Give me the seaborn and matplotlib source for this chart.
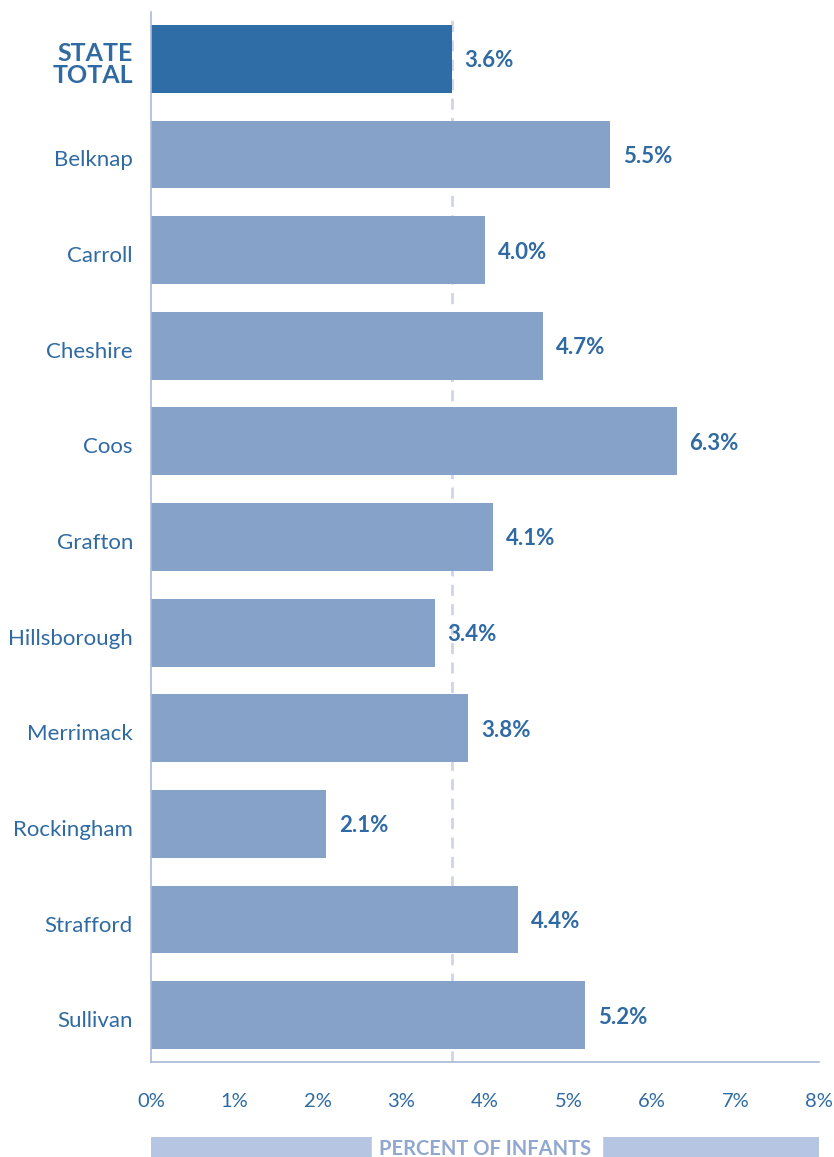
import matplotlib
matplotlib.use("Agg")
import matplotlib.pyplot as plt
import seaborn as sns
import pandas as pd
from matplotlib.patches import Rectangle
from matplotlib.transforms import ScaledTranslation

categories = ["STATE\nTOTAL", "Belknap", "Carroll", "Cheshire", "Coos", "Grafton",
              "Hillsborough", "Merrimack", "Rockingham", "Strafford", "Sullivan"]
values = [3.6, 5.5, 4.0, 4.7, 6.3, 4.1, 3.4, 3.8, 2.1, 4.4, 5.2]
groups = ["total"] + ["county"] * 10
state_total = 3.6
xticks = [0, 1, 2, 3, 4, 5, 6, 7, 8]

df = pd.DataFrame({"cat": categories, "val": values, "grp": groups})

sns.set_style("white")
plt.rcParams["font.family"] = ["Lato", "DejaVu Sans"]

text_color = "#2f6aa3"
fig = plt.figure(figsize=(8.34, 11.57), dpi=100)
ax = fig.add_axes([151/834, 1 - 1062/1157, (819-151)/834, (1062-12)/1157])

sns.barplot(data=df, x="val", y="cat", hue="grp", palette={"total": "#2f6da6", "county": "#87a2c9"},
            width=0.71, dodge=False, legend=False, ax=ax, saturation=1, edgecolor="none")

ax.axvline(state_total, color="#ccd6e8", lw=2, ls=(0, (4, 3)), zorder=0)

ax.set_xlim(0, 8)
ax.set_ylim(10.49, -0.49)
ax.set_xticks(xticks)
ax.set_xticklabels([f"{t}%" for t in xticks], fontsize=14.5, color=text_color)
ax.tick_params(axis="x", direction="in", length=12, width=1, color="#a8b9d8", pad=22)
ax.tick_params(axis="y", length=0, pad=13)
shift = ScaledTranslation(0, -4/100, fig.dpi_scale_trans)
for i, lab in enumerate(ax.get_yticklabels()):
    lab.set_color(text_color)
    lab.set_transform(lab.get_transform() + shift)
    if i == 0:
        lab.set_fontsize(18)
        lab.set_fontweight("bold")
        lab.set_linespacing(0.95)
    else:
        lab.set_fontsize(16)
ax.set_xlabel("")
ax.set_ylabel("")
for s in ["top", "right"]:
    ax.spines[s].set_visible(False)
for s in ["left", "bottom"]:
    ax.spines[s].set_color("#a8b9d8")
    ax.spines[s].set_linewidth(1.2)

for i, v in enumerate(values):
    t = ax.text(v + 0.15, i, f"{v:.1f}%", va="center", ha="left", fontsize=16,
                fontweight="bold", color=text_color)
    t.set_transform(t.get_transform() + ScaledTranslation(0, -2/100, fig.dpi_scale_trans))

# bottom label band
band_ax = fig.add_axes([151/834, 0, (819-151)/834, 20/1157])
band_ax.set_xlim(0, 1); band_ax.set_ylim(0, 1)
band_ax.axis("off")
band_ax.add_patch(Rectangle((0, 0), 1, 1, color="#b6c6e2"))
band_ax.add_patch(Rectangle((0.331, 0), 0.344, 1, color="white"))
band_ax.text(0.5, 0.4, "PERCENT OF INFANTS", ha="center", va="center", fontsize=14.5,
             fontweight="bold", color="#90a7cf")

fig.savefig("out.png", dpi=100)
